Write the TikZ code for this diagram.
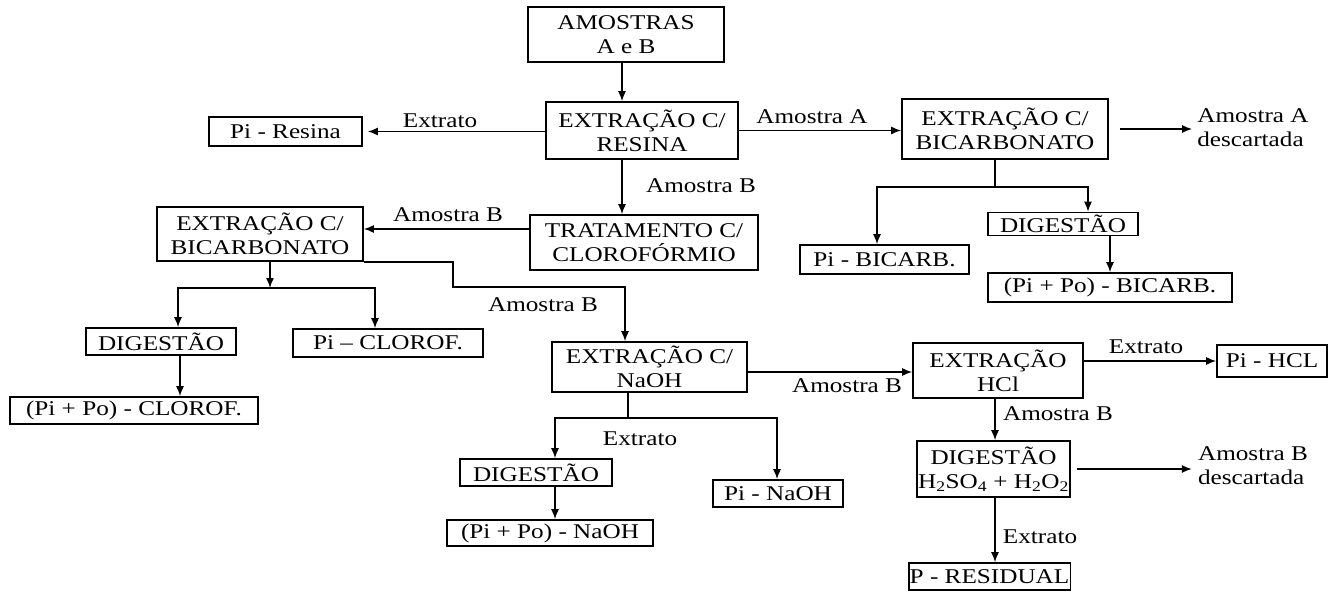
\documentclass[tikz,border=0pt]{standalone}
\usepackage{fontspec}
\setmainfont{Liberation Serif}[FakeStretch=1.2]
\usetikzlibrary{arrows.meta}

\tikzset{
  caixa/.style={draw, line width=1.6pt, align=center, inner sep=1pt, font=\fontsize{21}{24}\selectfont},
  rotulo/.style={inner sep=0pt, align=left, font=\fontsize{21}{24}\selectfont},
  seta/.style={-{Latex[length=10pt,width=8pt]}, line width=1.5pt},
  linha/.style={line width=1.5pt}
}

\begin{document}
\begin{tikzpicture}[x=1pt,y=1pt,yscale=-1,xscale=1]
\useasboundingbox (0,0) rectangle (1332,592);
\node[caixa, minimum width=196pt, minimum height=55pt] (amostras) at (626,34.5) {AMOSTRAS\\A e B};
\node[caixa, minimum width=192pt, minimum height=57pt] (resina) at (642,130.5) {EXTRAÇÃO C/\\RESINA};
\node[caixa, minimum width=153pt, minimum height=29pt] (piresina) at (285.5,131.5) {Pi - Resina};
\node[caixa, minimum width=206pt, minimum height=60pt] (bicarbA) at (1005,129) {EXTRAÇÃO C/\\BICARBONATO};
\node[rotulo] (descA) at (1253,128) {Amostra A\\descartada};
\node[caixa, minimum width=169pt, minimum height=29pt] (pibicarb) at (884.5,259.5) {Pi - BICARB.};
\node[caixa, minimum width=150pt, minimum height=23pt] (digA) at (1063,224) {DIGESTÃO};
\node[caixa, minimum width=244pt, minimum height=29pt] (pipoBicarb) at (1110,287.5) {(Pi + Po) - BICARB.};
\node[caixa, minimum width=228pt, minimum height=55pt] (tratamento) at (644,242.5) {TRATAMENTO C/\\CLOROFÓRMIO};
\node[caixa, minimum width=206pt, minimum height=54pt] (bicarbB) at (260,234) {EXTRAÇÃO C/\\BICARBONATO};
\node[caixa, minimum width=150pt, minimum height=27pt] (digB) at (161,341.5) {DIGESTÃO};
\node[caixa, minimum width=190pt, minimum height=28pt] (piclorof) at (388,343) {Pi -- CLOROF.};
\node[caixa, minimum width=248pt, minimum height=27pt] (pipoClorof) at (134,410.5) {(Pi + Po) - CLOROF.};
\node[caixa, minimum width=195pt, minimum height=50pt] (naoh) at (649.5,367) {EXTRAÇÃO C/\\NaOH};
\node[caixa, minimum width=170pt, minimum height=55pt] (hcl) at (998,370.5) {EXTRAÇÃO\\HCl};
\node[caixa, minimum width=110pt, minimum height=32pt] (pihcl) at (1272,361) {Pi - HCL};
\node[caixa, minimum width=153pt, minimum height=56pt] (digSulf) at (993.5,469) {DIGESTÃO\\H\textsubscript{2}SO\textsubscript{4} + H\textsubscript{2}O\textsubscript{2}};
\node[rotulo] (descB) at (1253,466) {Amostra B\\descartada};
\node[caixa, minimum width=145pt, minimum height=27pt] (residual) at (989.5,576.5) {P - RESIDUAL};
\node[caixa, minimum width=152pt, minimum height=27pt] (digC) at (536,472.5) {DIGESTÃO};
\node[caixa, minimum width=206pt, minimum height=26pt] (pipoNaoh) at (550,533) {(Pi + Po) - NaOH};
\node[caixa, minimum width=130pt, minimum height=27pt] (pinaoh) at (778,493.5) {Pi - NaOH};

\node[rotulo] (lExtr1) at (440,121) {Extrato};
\node[rotulo] (lAmA) at (812,117) {Amostra A};
\node[rotulo] (lAmB1) at (701,186) {Amostra B};
\node[rotulo] (lAmB2) at (448,215) {Amostra B};
\node[rotulo] (lAmB3) at (543,305) {Amostra B};
\node[rotulo] (lAmB4) at (847,386) {Amostra B};
\node[rotulo] (lExtr2) at (1146,347) {Extrato};
\node[rotulo] (lExtr3) at (640,439) {Extrato};
\node[rotulo] (lAmB5) at (1058,414) {Amostra B};
\node[rotulo] (lExtr4) at (1040,537) {Extrato};

\coordinate (xA) at (622,0);
\coordinate (jA) at (995,187);
\coordinate (kA1) at (877,187);
\coordinate (kA2) at (1088,187);
\coordinate (yB) at (0,229);
\coordinate (jB) at (270,288);
\coordinate (kB1) at (178,288);
\coordinate (kB2) at (375,288);
\coordinate (xB) at (180,0);
\coordinate (mB1) at (453,287);
\coordinate (mB2) at (625,287);
\coordinate (yN) at (0,372);
\coordinate (xH) at (995,0);
\coordinate (jN) at (628,418);
\coordinate (kN1) at (555,418);
\coordinate (kN2) at (777,418);

\draw[seta] (amostras.south -| xA) -- (resina.north -| xA);
\draw[seta, shorten >=5pt] (resina.west |- piresina.east) -- (piresina.east);
\draw[seta] (resina.east) -- (bicarbA.west |- resina.east);
\draw[seta, shorten <=11pt, shorten >=5pt] (bicarbA.east) -- (descA.west |- bicarbA.east);
\draw[linha] (bicarbA.south -| jA) -- (jA);
\draw[seta] (jA) -| (pibicarb.north -| kA1);
\draw[seta] (jA) -| (digA.north -| kA2);
\draw[seta] (digA.south -| pipoBicarb.north) -- (pipoBicarb.north);
\draw[seta] (resina.south -| xA) -- (tratamento.north -| xA);
\draw[seta] (tratamento.west |- yB) -- (bicarbB.east |- yB);
\draw[seta] (bicarbB.south -| jB) -- (jB);
\draw[seta] (jB) -| (digB.north -| kB1);
\draw[seta] (jB) -| (piclorof.north -| kB2);
\draw[seta] (digB.south -| xB) -- (pipoClorof.north -| xB);
\draw[seta] (bicarbB.south east) -| (mB1) -- (mB2) -- (naoh.north -| mB2);
\draw[seta] (naoh.east |- yN) -- (hcl.west |- yN);
\draw[seta] (hcl.east |- pihcl.west) -- (pihcl.west);
\draw[seta] (hcl.south -| xH) -- (digSulf.north -| xH);
\draw[seta, shorten <=6pt, shorten >=6pt] (digSulf.east) -- (descB.west |- digSulf.east);
\draw[seta] (digSulf.south -| xH) -- (residual.north -| xH);
\draw[linha] (naoh.south -| jN) -- (jN);
\draw[seta] (jN) -| (digC.north -| kN1);
\draw[seta] (jN) -| (pinaoh.north -| kN2);
\draw[seta] (digC.south -| kN1) -- (pipoNaoh.north -| kN1);
\end{tikzpicture}
\end{document}
